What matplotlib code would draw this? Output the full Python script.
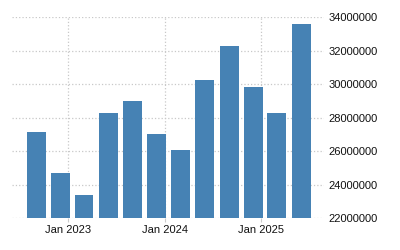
import numpy as np
import pandas as pd
import matplotlib.pyplot as plt
import matplotlib.dates as mdates

# quarterly values
dates = pd.to_datetime([
    "2022-09-01", "2022-12-01", "2023-03-01", "2023-06-01",
    "2023-09-01", "2023-12-01", "2024-03-01", "2024-06-01",
    "2024-09-01", "2024-12-01", "2025-03-01", "2025-06-01",
])
values = [27150000, 24700000, 23400000, 28300000,
          29000000, 27030000, 26080000, 30260000,
          32290000, 29840000, 28300000, 33600000]
y_ticks = [22000000, 24000000, 26000000, 28000000, 30000000, 32000000, 34000000]
x_ticks = pd.to_datetime(["2023-01-01", "2024-01-01", "2025-01-01"])
x_labels = ["Jan 2023", "Jan 2024", "Jan 2025"]

plt.rcParams['font.family'] = ['Liberation Sans', 'DejaVu Sans']

fig = plt.figure(figsize=(4, 2.5), dpi=100)
ax = fig.add_axes([0.03, 0.127, 0.78, 0.804])

ax.bar(dates, values, width=72, color='#4682B4', zorder=2)

ax.set_ylim(22000000, 34000000)
ax.set_xlim(pd.Timestamp("2022-06-01"), pd.Timestamp("2025-08-27"))
ax.set_yticks(y_ticks)
ax.set_yticklabels([str(v) for v in y_ticks])
ax.set_xticks(x_ticks)
ax.set_xticklabels(x_labels)

ax.yaxis.tick_right()
ax.tick_params(axis='y', length=0, pad=3, labelsize=8, colors='#111111')
ax.tick_params(axis='x', length=3, color='#cccccc', pad=2, labelsize=8, colors='#111111')

for s in ax.spines.values():
    s.set_visible(False)

ax.grid(True, axis='both', linestyle=':', color='#c8c8c8', linewidth=0.9, zorder=0)
ax.set_axisbelow(True)

fig.savefig('out.png', dpi=100)
